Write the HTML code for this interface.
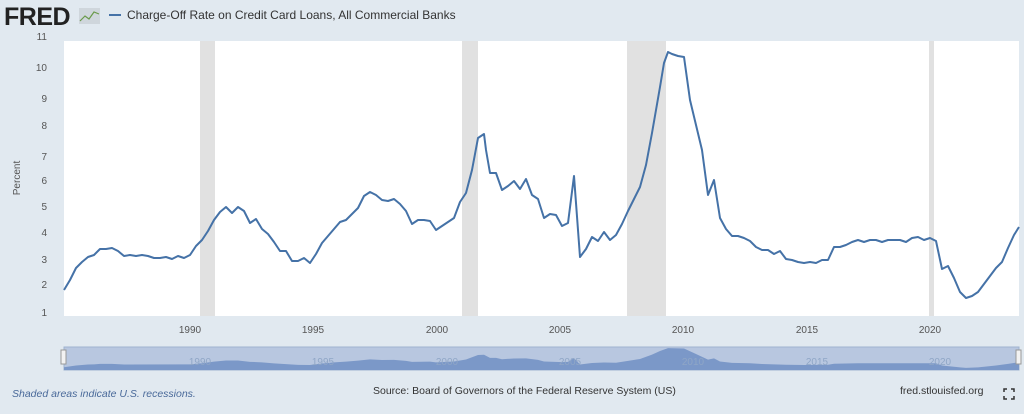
<!DOCTYPE html>
<html><head><meta charset="utf-8"><style>
body{margin:0;width:1024px;height:409px;background:#e1e9f0;overflow:hidden;font-family:"Liberation Sans",sans-serif}
</style></head><body>
<svg width="1024" height="409" xmlns="http://www.w3.org/2000/svg" font-family="Liberation Sans, sans-serif">
<rect width="1024" height="409" fill="#e1e9f0"/>
<text x="4" y="25" font-size="25" font-weight="bold" fill="#222" letter-spacing="-0.5">FRED</text>
<rect x="79" y="8" width="21" height="16" fill="#cfd6dc"/>
<polyline points="80,21 85,16 89,19 94,12 99,14" fill="none" stroke="#6a9a4a" stroke-width="1.2"/>
<line x1="109" y1="15" x2="121" y2="15" stroke="#4572a7" stroke-width="2"/>
<text x="127" y="19" font-size="12" fill="#333">Charge-Off Rate on Credit Card Loans, All Commercial Banks</text>
<rect x="64" y="41" width="955" height="275" fill="#fff"/>
<g fill="#e1e1e1">
<rect x="200" y="41" width="15" height="275"/>
<rect x="462" y="41" width="16" height="275"/>
<rect x="627" y="41" width="39" height="275"/>
<rect x="929" y="41" width="5" height="275"/>
</g>
<g font-size="10" fill="#555" text-anchor="end">
<text x="47" y="40">11</text><text x="47" y="71">10</text><text x="47" y="102">9</text><text x="47" y="129">8</text>
<text x="47" y="160">7</text><text x="47" y="184">6</text><text x="47" y="210">5</text><text x="47" y="236">4</text>
<text x="47" y="263">3</text><text x="47" y="288">2</text><text x="47" y="316">1</text>
</g>
<text x="20" y="178" font-size="10" fill="#555" transform="rotate(-90 20 178)" text-anchor="middle">Percent</text>
<g font-size="10" fill="#555" text-anchor="middle">
<text x="190" y="333">1990</text><text x="313" y="333">1995</text><text x="437" y="333">2000</text>
<text x="560" y="333">2005</text><text x="683" y="333">2010</text><text x="807" y="333">2015</text><text x="930" y="333">2020</text>
</g>
<polyline fill="none" stroke="#4572a7" stroke-width="2" stroke-linejoin="round" points="64,290 70,280 76,268 82,262 88,257 94,255 100,249 106,249 112,248 118,251 124,256 130,255 136,256 142,255 148,256 154,258 160,258 166,257 172,259 178,256 184,258 190,255 196,246 202,240 208,231 214,220 220,212 226,207 232,213 238,207 244,211 250,223 256,219 262,229 268,234 274,242 280,251 286,251 292,261 298,261 304,258 310,263 316,254 322,243 328,236 334,229 340,222 346,220 352,214 358,208 364,196 370,192 376,195 382,200 388,201 394,199 400,204 406,211 412,224 418,220 424,220 430,221 436,230 442,226 448,222 454,218 460,202 466,193 472,170 478,138 484,134 486,150 490,173 496,173 502,190 508,186 514,181 520,189 526,179 532,195 538,199 544,218 550,214 556,215 562,226 568,223 574,176 580,257 586,249 592,237 598,241 604,232 610,240 616,235 622,224 628,211 634,199 640,187 646,165 652,133 656,110 660,87 664,63 668,52 672,54 678,56 684,57 690,100 696,125 702,150 708,195 714,180 720,218 726,229 732,236 738,236 744,238 750,241 756,247 762,250 768,250 774,254 780,251 786,259 792,260 798,262 804,263 810,262 816,263 822,260 828,260 834,247 840,247 846,245 852,242 858,240 864,242 870,240 876,240 882,242 888,240 894,240 900,240 906,242 912,238 918,237 924,240 930,238 936,241 942,269 948,266 954,278 960,292 966,298 972,296 978,292 984,284 990,276 996,268 1002,262 1008,248 1014,235 1019,227"/>
<rect x="64" y="347" width="955" height="23" fill="#b8c7e0" stroke="#9fb3d0"/>
<g transform="translate(0,344) scale(1,0.08)">
<polygon fill="#7b98c8" points="64,290 70,280 76,268 82,262 88,257 94,255 100,249 112,248 124,256 190,255 202,240 214,220 226,207 238,207 250,223 262,229 274,242 286,251 298,261 310,263 322,243 334,229 346,220 358,208 370,192 382,200 394,199 406,211 412,224 430,221 436,230 454,218 466,193 478,138 484,134 490,173 496,173 502,190 514,181 526,179 538,199 544,218 562,226 568,223 574,176 580,257 592,237 604,232 616,235 628,211 640,187 652,133 660,87 668,52 684,57 696,125 708,195 714,180 720,218 732,236 750,241 762,250 786,259 804,263 828,260 834,247 858,240 936,241 942,269 960,292 966,298 978,292 996,268 1008,248 1019,227 1019,325 64,325"/>
</g>
<g font-size="10" fill="#8fa6c6" text-anchor="middle">
<text x="200" y="365">1990</text><text x="323" y="365">1995</text><text x="447" y="365">2000</text><text x="570" y="365">2005</text>
<text x="693" y="365">2010</text><text x="817" y="365">2015</text><text x="940" y="365">2020</text>
</g>
<rect x="61" y="350" width="5" height="14" fill="#f2f2f2" stroke="#999"/>
<rect x="1016" y="350" width="5" height="14" fill="#f2f2f2" stroke="#999"/>
<text x="12" y="397" font-size="10.5" font-style="italic" fill="#4a6a9a">Shaded areas indicate U.S. recessions.</text>
<text x="373" y="394" font-size="10.5" fill="#333">Source: Board of Governors of the Federal Reserve System (US)</text>
<text x="900" y="394" font-size="10.5" fill="#333">fred.stlouisfed.org</text>
<g stroke="#333" stroke-width="1.5" fill="none">
<path d="M1004,392v-3h3M1011,389h3v3M1004,396v3h3M1011,399h3v-3"/>
</g>
</svg>
</body></html>
